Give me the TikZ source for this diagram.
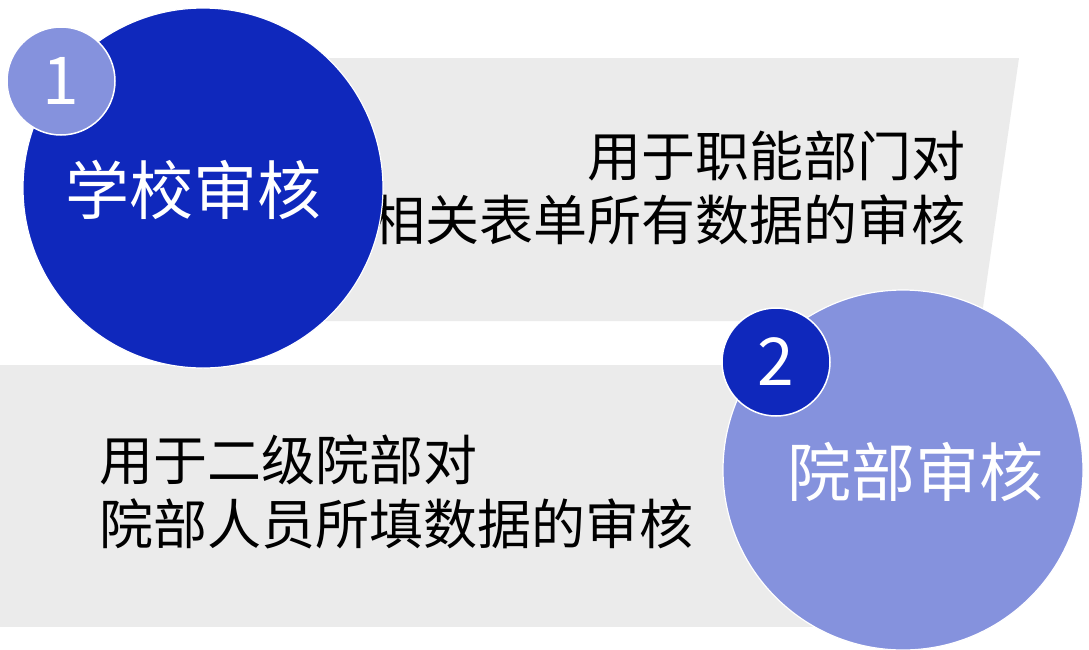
\documentclass[tikz,border=0pt]{standalone}
\usepackage{fontspec}
\setmainfont{Noto Sans CJK SC}
\usepackage{tikz}
\definecolor{scuro}{RGB}{15,40,188}
\definecolor{chiaro}{RGB}{133,146,221}
\definecolor{fascia}{RGB}{235,235,235}

\begin{document}
\begin{tikzpicture}[x=1pt,y=-1pt,
		grande/.style={circle, draw=white, line width=1.2pt, minimum size=360pt, inner sep=0pt},
		titolo/.style={inner sep=0pt, text=white, font=\fontsize{64}{70}\selectfont},
		piccolo/.style={circle, draw=white, line width=1.5pt, minimum size=108pt, inner sep=0pt, text=white, font=\fontsize{66}{70}\selectfont},
		testo/.style={inner sep=0pt, font=\fontsize{54}{64.5}\selectfont}]
		\useasboundingbox (0,0) rectangle (1089,649);
		%Fasce
		\fill [fascia] (200,58) -- (1019,58) -- (981,321) -- (200,321) -- cycle;
		\fill [fascia] (0,365) rectangle (903,627);
		%Testi
		\node [testo, align=right, anchor=east] (desc1) at (966,188) {用于职能部门对\\相关表单所有数据的审核};
		\node [testo, align=left, anchor=west] (desc2) at (99,492) {用于二级院部对\\院部人员所填数据的审核};
		%Cerchi
		\node [grande, fill=scuro] (scuola) at (203,188) {};
		\node [titolo] (tscuola) at (193,190) {学校审核};
		\node [piccolo, fill=chiaro] (uno) at (61,81) {1};
		\node [grande, fill=chiaro] (facolta) at (903,470) {};
		\node [titolo] (tfacolta) at (915,472) {院部审核};
		\node [piccolo, fill=scuro] (due) at (776,362) {2};
	\end{tikzpicture}
\end{document}
